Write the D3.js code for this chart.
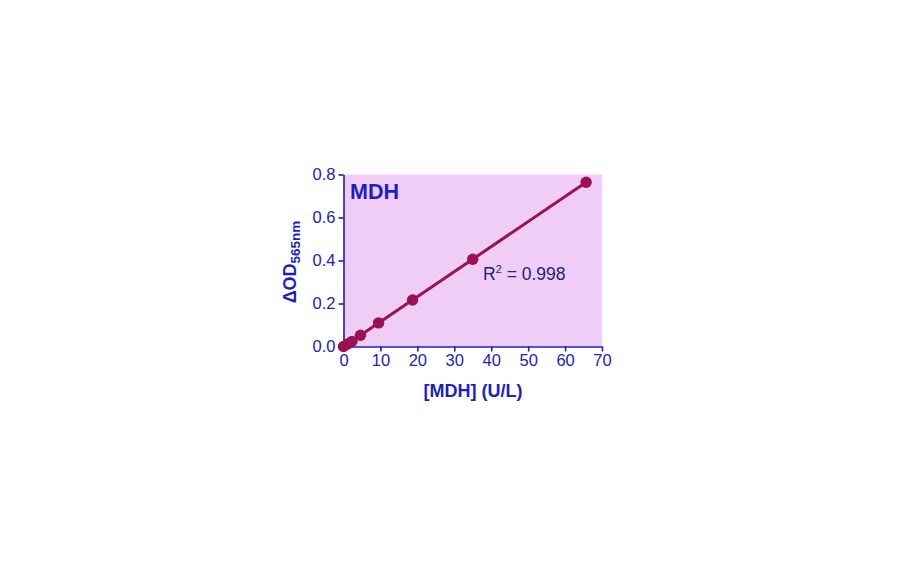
<!DOCTYPE html>
<html>
<head>
<meta charset="utf-8">
<script src="https://cdn.jsdelivr.net/npm/d3@7"></script>
<style>
  body { margin: 0; background: #fff; }
  text { font-family: "Liberation Sans", Arial, sans-serif; }
</style>
</head>
<body>
<div id="chart"></div>
<script>
var w = 912;
var h = 562;

// data
var conc = [0, 1.15, 2.3, 4.6, 9.5, 18.7, 35, 65.7];
var od = [0, 0.012, 0.024, 0.052, 0.11, 0.216, 0.406, 0.764];
var xTicks = [0, 10, 20, 30, 40, 50, 60, 70];
var yTicks = [0, 0.2, 0.4, 0.6, 0.8];

var blue = "#1d1dc8";
var wine = "#9c1152";

var svg = d3.select("#chart")
            .append("svg")
            .attr("width", w)
            .attr("height", h);

var xScale = d3.scaleLinear().domain([0, 70]).range([343.5, 602]);
var yScale = d3.scaleLinear().domain([0, 0.8]).range([346.5, 174.5]);

// plot background
svg.append("rect")
    .attr("x", xScale(0))
    .attr("y", yScale(0.8))
    .attr("width", xScale(70) - xScale(0))
    .attr("height", yScale(0) - yScale(0.8))
    .attr("fill", "#f0cdf6");

// axes
var xAxis = d3.axisBottom(xScale).tickValues(xTicks).tickSize(5).tickSizeOuter(0).tickPadding(3);
var yAxis = d3.axisLeft(yScale).tickValues(yTicks).tickSize(5).tickSizeOuter(0).tickPadding(3)
                .tickFormat(d3.format(".1f"));

var gx = svg.append("g")
    .attr("transform", "translate(0," + yScale(0) + ")")
    .call(xAxis);
var gy = svg.append("g")
    .attr("transform", "translate(" + xScale(0) + ",0)")
    .call(yAxis);

[gx, gy].forEach(function(g) {
    g.select(".domain").attr("stroke", blue).attr("stroke-width", 1.6);
    g.selectAll(".tick line").attr("stroke", blue).attr("stroke-width", 1.6);
    g.selectAll(".tick text")
        .attr("fill", "#2222b8")
        .style("font-size", "16.5px")
        .style("font-family", "Liberation Sans, Arial, sans-serif");
});
// y axis continues a bit below zero like the original
gy.append("line")
    .attr("x1", 0).attr("x2", 0)
    .attr("y1", yScale(0)).attr("y2", yScale(0) + 5)
    .attr("stroke", blue).attr("stroke-width", 1.6);

// least squares fit line
var mx = d3.mean(conc), my = d3.mean(od);
var sxy = d3.sum(conc, (d, i) => (d - mx) * (od[i] - my));
var sxx = d3.sum(conc, d => (d - mx) * (d - mx));
var slope = sxy / sxx;
var icpt = my - slope * mx;
var xEnd = d3.max(conc);

svg.append("line")
    .attr("x1", xScale(0))
    .attr("y1", yScale(icpt))
    .attr("x2", xScale(xEnd))
    .attr("y2", yScale(icpt + slope * xEnd))
    .attr("stroke", wine)
    .attr("stroke-width", 3);

// dots
svg.selectAll(".dot")
    .data(conc)
    .enter()
    .append("circle")
    .attr("class", "dot")
    .attr("cx", d => xScale(d))
    .attr("cy", (d, i) => yScale(od[i]))
    .attr("r", 5.7)
    .attr("fill", wine);

// labels
svg.append("text")
    .attr("x", 350)
    .attr("y", 199)
    .attr("fill", blue)
    .style("font-size", "21.5px")
    .style("font-weight", "bold")
    .text("MDH");

var r2 = svg.append("text")
    .attr("x", 483)
    .attr("y", 280)
    .attr("fill", "#22227a")
    .style("font-size", "17.5px");
r2.append("tspan").text("R");
r2.append("tspan").attr("dy", -7).style("font-size", "11px").text("2");
r2.append("tspan").attr("dy", 7).text(" = 0.998");

svg.append("text")
    .attr("x", 473)
    .attr("y", 397)
    .attr("text-anchor", "middle")
    .attr("fill", blue)
    .style("font-size", "18px")
    .style("font-weight", "bold")
    .text("[MDH] (U/L)");

var yt = svg.append("text")
    .attr("transform", "translate(296,262) rotate(-90)")
    .attr("text-anchor", "middle")
    .attr("fill", blue)
    .style("font-weight", "bold")
    .style("font-size", "18px");
yt.append("tspan").text("\u0394OD");
yt.append("tspan").attr("dy", 4).style("font-size", "13.5px").text("565nm");
</script>
</body>
</html>
